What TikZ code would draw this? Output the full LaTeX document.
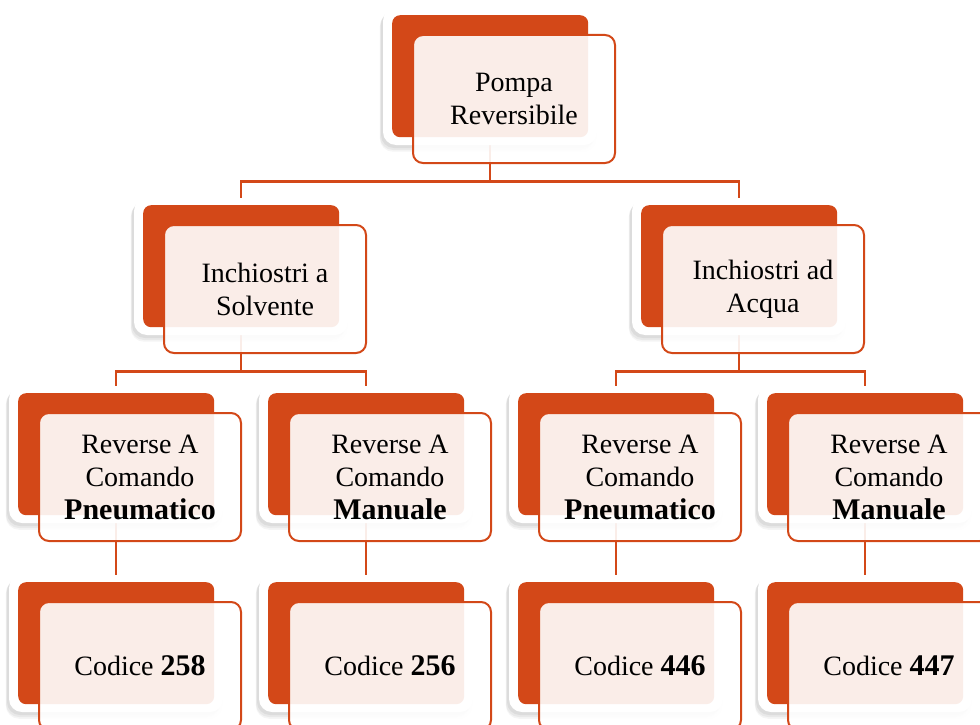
\documentclass[tikz,border=0pt]{standalone}
\usepackage{fontspec}
\setmainfont{Liberation Serif}
\usetikzlibrary{shadows,calc}
\definecolor{org}{RGB}{211,72,24}
\pgfdeclarelayer{back}
\pgfdeclarelayer{bg}
\pgfsetlayers{back,bg,main}
\tikzset{
  outerbox/.style={fill=white, rounded corners=13pt,
    drop shadow={shadow xshift=-2pt,shadow yshift=-6pt,shadow scale=1.01,opacity=0.08},
    drop shadow={shadow xshift=-3pt,shadow yshift=-5pt,opacity=0.1},
    drop shadow={shadow xshift=-2pt,shadow yshift=-3pt,opacity=0.12}},
  orgbox/.style={fill=org, rounded corners=8pt, draw=none, minimum width=196pt,
    minimum height=122pt, inner sep=0pt, anchor=north west},
  txtbox/.style={fill=white, fill opacity=0.9, draw=org, line width=2pt,
    rounded corners=10pt, minimum width=202pt, minimum height=128pt,
    anchor=north west, inner sep=0pt},
  lbl/.style={align=center, font=\fontsize{28}{33}\selectfont, text=black},
  conn/.style={draw=org, line width=2.2pt},
}
\newcommand\bt[1]{{\fontsize{30}{33}\selectfont\bfseries #1}}
\newcommand\orgunit[4]{%
  \path[outerbox] (#2-9,#3-7) rectangle (#2+205,#3+130);
  \node[orgbox] (#1) at (#2,#3) {};
  \node[txtbox] (#1T) at (#2+20,#3+19) {};
  \node[lbl] (#1L) at (#1T.center) {#4};
}
\begin{document}
\begin{tikzpicture}[x=1pt,y=-1pt]
\useasboundingbox (0,0) rectangle (980,725);
\clip (0,0) rectangle (980,725);
\begin{pgfonlayer}{back}
  \fill[white] (0,0) rectangle (980,725);
\end{pgfonlayer}
\orgunit{top}{392}{15}{Pompa\\Reversibile}
\orgunit{lta}{143}{205}{Inchiostri a\\Solvente}
\orgunit{ltb}{641}{205}{Inchiostri ad\\Acqua}
\orgunit{lra}{18}{393}{Reverse A\\Comando\\\bt{Pneumatico}}
\orgunit{lrb}{268}{393}{Reverse A\\Comando\\\bt{Manuale}}
\orgunit{lrc}{518}{393}{Reverse A\\Comando\\\bt{Pneumatico}}
\orgunit{lrd}{767}{393}{Reverse A\\Comando\\\bt{Manuale}}
\orgunit{lfa}{18}{582}{Codice \bt{258}}
\orgunit{lfb}{268}{582}{Codice \bt{256}}
\orgunit{lfc}{518}{582}{Codice \bt{446}}
\orgunit{lfd}{767}{582}{Codice \bt{447}}
\begin{pgfonlayer}{bg}
  \draw[conn] (top.south) -- ++(0,44) -| (lta.north);
  \draw[conn] (top.south) -- ++(0,44) -| (ltb.north);
  \draw[conn] (lta.south) -- ++(0,44) -| (lra.north);
  \draw[conn] (lta.south) -- ++(0,44) -| (lrb.north);
  \draw[conn] (ltb.south) -- ++(0,44) -| (lrc.north);
  \draw[conn] (ltb.south) -- ++(0,44) -| (lrd.north);
  \draw[conn] (lra.south) -- (lfa.north);
  \draw[conn] (lrb.south) -- (lfb.north);
  \draw[conn] (lrc.south) -- (lfc.north);
  \draw[conn] (lrd.south) -- (lfd.north);
\end{pgfonlayer}
\end{tikzpicture}
\end{document}
